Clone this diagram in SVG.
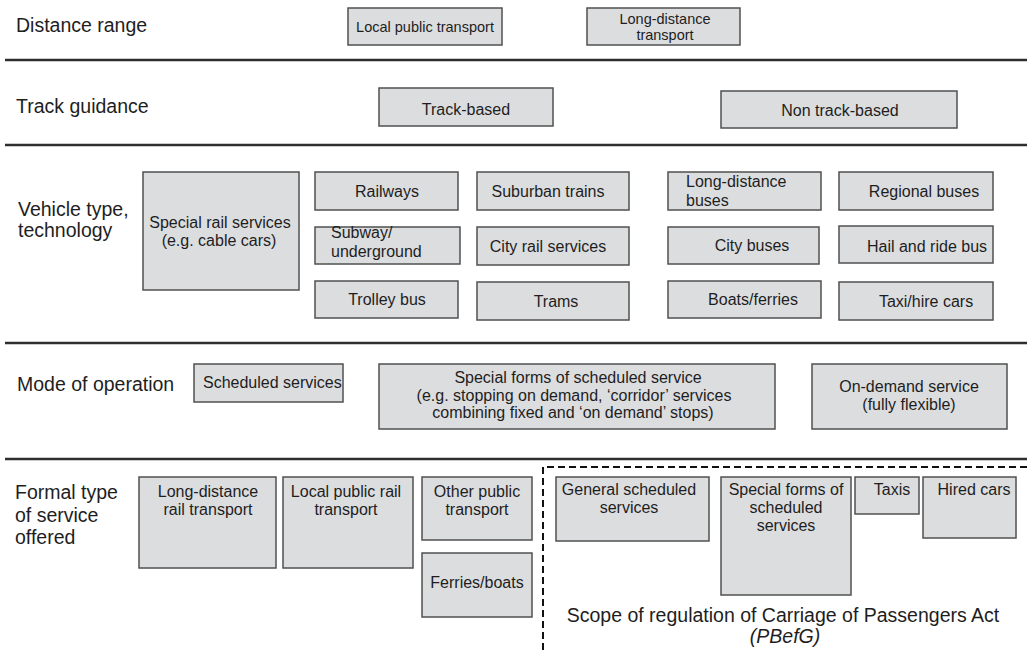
<svg xmlns="http://www.w3.org/2000/svg" width="1027" height="654" viewBox="0 0 1027 654">
<style>
.bg{fill:#ffffff}
.sep{stroke:#2e2e2e;stroke-width:2.5;fill:none}
.dash{stroke:#111;stroke-width:2;fill:none;stroke-dasharray:7 4}
.box{fill:#dcdddf;stroke:#505050;stroke-width:1.5}
.lbl{font-family:"Liberation Sans",Arial,sans-serif;font-size:19.5px;fill:#1e1e1e}
.t{font-family:"Liberation Sans",Arial,sans-serif;font-size:16px;fill:#1e1e1e;text-anchor:middle}
.tl{font-family:"Liberation Sans",Arial,sans-serif;font-size:16px;fill:#1e1e1e}
.ts{font-family:"Liberation Sans",Arial,sans-serif;font-size:14.5px;fill:#1e1e1e;text-anchor:middle}
.scope{font-family:"Liberation Sans",Arial,sans-serif;font-size:19.5px;fill:#1e1e1e;text-anchor:middle}
</style>
<rect class="bg" x="0" y="0" width="1027" height="654"/>

<g id="connectors">
<line class="sep" x1="5" y1="60" x2="1027" y2="60"/>
<line class="sep" x1="5" y1="145" x2="1027" y2="145"/>
<line class="sep" x1="5" y1="343" x2="1027" y2="343"/>
<line class="sep" x1="5" y1="459" x2="1027" y2="459"/>
<path class="dash" d="M1027,467 H543 V654"/>
</g>

<g id="row-labels">
<text class="lbl" x="16" y="32">Distance range</text>
<text class="lbl" x="16" y="113">Track guidance</text>
<text class="lbl" x="18" y="216">Vehicle type,</text>
<text class="lbl" x="18" y="237">technology</text>
<text class="lbl" x="17" y="391">Mode of operation</text>
<text class="lbl" x="15" y="499">Formal type</text>
<text class="lbl" x="15" y="522">of service</text>
<text class="lbl" x="15" y="544">offered</text>
</g>

<g id="local-public-transport"><rect class="box" x="348" y="8" width="154" height="37"/><text class="ts" x="425" y="32">Local public transport</text></g>
<g id="long-distance-transport"><rect class="box" x="587" y="8" width="153" height="37"/><text class="ts" x="665" y="24">Long-distance</text><text class="ts" x="665" y="40">transport</text></g>

<g id="track-based"><rect class="box" x="379" y="88" width="174" height="38"/><text class="t" x="466" y="115">Track-based</text></g>
<g id="non-track-based"><rect class="box" x="721" y="91" width="236" height="37"/><text class="t" x="840" y="116">Non track-based</text></g>

<g id="special-rail"><rect class="box" x="143" y="172" width="156" height="118"/><text class="t" x="220" y="228">Special rail services</text><text class="t" x="219" y="246">(e.g. cable cars)</text></g>
<g id="railways"><rect class="box" x="315" y="172" width="143" height="38"/><text class="t" x="387" y="197">Railways</text></g>
<g id="subway"><rect class="box" x="315" y="227" width="145" height="37"/><text class="tl" x="331" y="238">Subway/</text><text class="tl" x="331" y="257">underground</text></g>
<g id="trolley-bus"><rect class="box" x="315" y="281" width="143" height="37"/><text class="t" x="387" y="305">Trolley bus</text></g>
<g id="suburban-trains"><rect class="box" x="477" y="172" width="152" height="38"/><text class="t" x="548" y="197">Suburban trains</text></g>
<g id="city-rail"><rect class="box" x="477" y="227" width="152" height="38"/><text class="t" x="548" y="252">City rail services</text></g>
<g id="trams"><rect class="box" x="477" y="282" width="152" height="38"/><text class="t" x="556" y="307">Trams</text></g>
<g id="long-distance-buses"><rect class="box" x="668" y="172" width="153" height="38"/><text class="tl" x="686" y="187">Long-distance</text><text class="tl" x="686" y="206">buses</text></g>
<g id="city-buses"><rect class="box" x="668" y="227" width="151" height="37"/><text class="t" x="752" y="251">City buses</text></g>
<g id="boats-ferries"><rect class="box" x="668" y="281" width="153" height="37"/><text class="t" x="753" y="305">Boats/ferries</text></g>
<g id="regional-buses"><rect class="box" x="839" y="172" width="154" height="38"/><text class="t" x="924" y="197">Regional buses</text></g>
<g id="hail-and-ride"><rect class="box" x="839" y="226" width="154" height="37"/><text class="t" x="927" y="252">Hail and ride bus</text></g>
<g id="taxi-hire"><rect class="box" x="839" y="282" width="154" height="38"/><text class="t" x="926" y="307">Taxi/hire cars</text></g>

<g id="scheduled-services"><rect class="box" x="194" y="364" width="149" height="38"/><text class="tl" x="203" y="388">Scheduled services</text></g>
<g id="special-forms-mode"><rect class="box" x="379" y="364" width="396" height="65"/><text class="t" x="578" y="383">Special forms of scheduled service</text><text class="t" x="574" y="401">(e.g. stopping on demand, ‘corridor’ services</text><text class="t" x="573" y="418">combining fixed and ‘on demand’ stops)</text></g>
<g id="on-demand"><rect class="box" x="812" y="364" width="195" height="65"/><text class="t" x="909" y="392">On-demand service</text><text class="t" x="909" y="410">(fully flexible)</text></g>

<g id="long-distance-rail"><rect class="box" x="139" y="477" width="137" height="91"/><text class="t" x="208" y="497">Long-distance</text><text class="t" x="208" y="515">rail transport</text></g>
<g id="local-public-rail"><rect class="box" x="283" y="477" width="130" height="91"/><text class="t" x="346" y="497">Local public rail</text><text class="t" x="346" y="515">transport</text></g>
<g id="other-public"><rect class="box" x="422" y="477" width="110" height="63"/><text class="t" x="477" y="497">Other public</text><text class="t" x="477" y="515">transport</text></g>
<g id="ferries-boats"><rect class="box" x="422" y="553" width="110" height="64"/><text class="t" x="477" y="588">Ferries/boats</text></g>
<g id="general-scheduled"><rect class="box" x="556" y="477" width="153" height="64"/><text class="t" x="629" y="495">General scheduled</text><text class="t" x="629" y="513">services</text></g>
<g id="special-forms-formal"><rect class="box" x="721" y="477" width="130" height="118"/><text class="t" x="786" y="495">Special forms of</text><text class="t" x="786" y="513">scheduled</text><text class="t" x="786" y="531">services</text></g>
<g id="taxis"><rect class="box" x="855" y="477" width="64" height="37"/><text class="t" x="892" y="495">Taxis</text></g>
<g id="hired-cars"><rect class="box" x="923" y="477" width="93" height="61"/><text class="t" x="974" y="495">Hired cars</text></g>

<g id="scope-label"><text class="scope" x="783" y="622">Scope of regulation of Carriage of Passengers Act</text><text class="scope" x="785" y="643" font-style="italic">(PBefG)</text></g>
</svg>
